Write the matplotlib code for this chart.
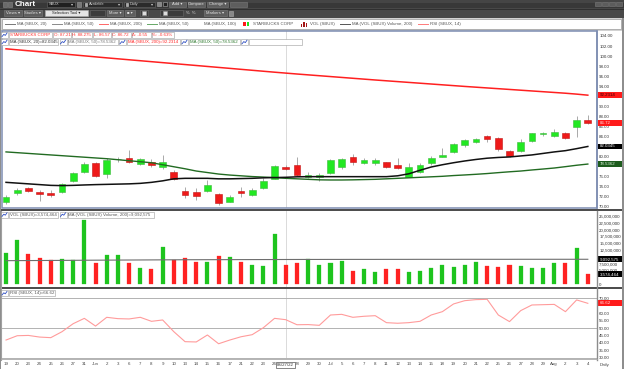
import matplotlib
matplotlib.use("Agg")
import matplotlib.pyplot as plt
from matplotlib.patches import Rectangle
from matplotlib.transforms import blended_transform_factory as blend

plt.rcParams['font.family'] = ['Liberation Sans', 'DejaVu Sans']

W, H, DPI = 624, 369, 100
FS = 3.2

# ---------------- data ----------------
date_labels = ["19", "20", "23", "24", "25", "26", "27", "31",
               "Jun", "2", "3", "6", "7", "8", "9", "10", "13", "14", "15", "16", "17",
               "21", "22", "23", "24", "27", "28", "29", "30",
               "Jul", "5", "6", "7", "8", "11", "12", "13", "14", "15", "18", "19", "20",
               "21", "22", "25", "26", "27", "28", "29",
               "Aug", "2", "3", "4"]

opens = [71.06, 72.84, 73.72, 72.99, 72.79, 72.92, 75.17, 77.03, 78.69, 76.50,
         79.45, 79.80, 78.55, 78.89, 77.90, 77.03, 73.13, 72.93, 73.25, 72.59,
         71.06, 73.13, 72.45, 73.84, 75.64, 78.02, 78.42, 76.03, 75.90, 76.70,
         78.02, 80.00, 78.82, 78.69, 78.89, 78.35, 76.03, 77.03, 78.69, 80.00,
         81.00, 82.33, 82.87, 84.12, 83.66, 81.20, 81.20, 83.13, 84.53, 84.12,
         84.66, 85.85, 87.21]
highs = [72.4, 73.75, 74.0, 73.4, 73.3, 74.75, 76.9, 79.0, 78.9, 79.7,
         80.0, 81.3, 79.8, 79.6, 80.3, 77.3, 74.04, 73.7, 75.4, 72.73,
         72.4, 74.0, 73.7, 75.7, 78.35, 78.35, 80.0, 77.03, 76.8, 79.5,
         79.7, 80.5, 79.7, 79.8, 79.0, 79.7, 78.7, 78.7, 80.1, 81.68,
         82.7, 83.45, 83.75, 84.3, 83.85, 81.3, 83.5, 84.8, 85.0, 85.5,
         85.0, 88.0, 88.275]
lows = [70.6, 72.3, 72.95, 71.26, 71.9, 72.7, 75.0, 76.7, 76.0, 75.7,
        79.0, 78.7, 78.3, 77.9, 77.6, 75.3, 71.73, 71.4, 73.0, 70.4,
        70.9, 72.05, 72.2, 73.5, 75.5, 77.3, 76.2, 75.7, 75.2, 76.5,
        77.5, 78.4, 78.6, 78.4, 77.7, 77.5, 75.9, 76.8, 78.4, 80.0,
        80.8, 81.9, 82.8, 82.9, 81.2, 80.0, 81.0, 82.9, 84.2, 83.86,
        83.5, 83.86, 86.57]
closes = [72.05, 73.44, 73.25, 72.65, 72.45, 74.58, 76.70, 78.49, 76.23, 79.35,
          79.55, 79.00, 79.50, 78.41, 78.89, 75.57, 72.33, 72.26, 74.32, 70.86,
          71.99, 72.85, 73.33, 75.17, 78.15, 77.62, 76.36, 76.43, 76.43, 79.35,
          79.55, 78.89, 79.35, 79.35, 77.90, 77.70, 77.90, 78.28, 79.69, 80.34,
          82.53, 83.33, 83.60, 83.47, 81.47, 80.20, 83.00, 84.66, 84.80, 84.92,
          83.66, 87.27, 86.72]

ma20 = [74.9, 74.75, 74.6, 74.45, 74.3, 74.25, 74.3, 74.38, 74.45, 74.5,
        74.55, 74.6, 74.7, 74.9, 75.2, 75.6, 75.7, 75.7, 75.7, 75.6,
        75.6, 75.65, 75.7, 75.8, 75.85, 75.9, 76.0, 76.03, 76.03, 76.03,
        76.03, 76.03, 76.03, 76.03, 76.03, 76.2, 76.6, 77.3, 77.95, 78.4,
        78.8, 79.15, 79.45, 79.7, 79.85, 79.95, 80.15, 80.35, 80.65, 80.95,
        81.2, 81.6, 82.0345]
ma50 = [80.95, 80.8, 80.65, 80.5, 80.35, 80.2, 80.05, 79.9, 79.75, 79.6,
        79.4, 79.2, 79.0, 78.8, 78.4, 78.0, 77.6, 77.15, 76.85, 76.55,
        76.35, 76.2, 76.05, 75.95, 75.85, 75.7, 75.6, 75.5, 75.4, 75.37,
        75.37, 75.4, 75.45, 75.5, 75.6, 75.7, 75.8, 75.9, 76.0, 76.1,
        76.25, 76.37, 76.5, 76.65, 76.83, 77.0, 77.15, 77.36, 77.55, 77.75,
        78.02, 78.3, 78.5362]
ma200 = [101.45, 101.25, 101.05, 100.85, 100.65, 100.45, 100.25, 100.05, 99.85, 99.65,
         99.46, 99.27, 99.08, 98.89, 98.70, 98.51, 98.32, 98.13, 97.94, 97.75,
         97.56, 97.37, 97.18, 96.99, 96.80, 96.62, 96.44, 96.27, 96.10, 95.93,
         95.76, 95.59, 95.42, 95.25, 95.09, 94.93, 94.77, 94.61, 94.45, 94.29,
         94.13, 93.97, 93.82, 93.67, 93.52, 93.37, 93.22, 93.07, 92.92, 92.77,
         92.62, 92.44, 92.2314]

volume = [11.5e6, 16.2e6, 11.0e6, 9.56e6, 8.7e6, 9.2e6, 8.7e6, 23.5e6, 7.8e6, 10.5e6,
          10.66e6, 7.6e6, 5.76e6, 5.5e6, 13.5e6, 8.8e6, 9.4e6, 8.0e6, 8.0e6, 10.3e6,
          10.0e6, 8.2e6, 7.0e6, 6.7e6, 18.4e6, 7.0e6, 7.6e6, 9.2e6, 7.1e6, 7.8e6,
          8.46e6, 4.9e6, 5.5e6, 4.3e6, 5.5e6, 5.5e6, 4.3e6, 4.8e6, 5.9e6, 7.1e6,
          6.25e6, 7.1e6, 8.0e6, 6.6e6, 6.1e6, 6.9e6, 6.6e6, 5.9e6, 5.9e6, 7.6e6,
          7.6e6, 13.1e6, 3574464]
vol_ma200 = [8.58e6, 8.60e6, 8.62e6, 8.64e6, 8.66e6, 8.68e6, 8.71e6, 8.74e6, 8.76e6, 8.78e6,
             8.80e6, 8.82e6, 8.84e6, 8.86e6, 8.88e6, 8.90e6, 8.92e6, 8.93e6, 8.94e6, 8.95e6,
             8.96e6, 8.97e6, 8.98e6, 8.99e6, 9.00e6, 9.01e6, 9.02e6, 9.03e6, 9.03e6, 9.04e6,
             9.04e6, 9.05e6, 9.05e6, 9.05e6, 9.06e6, 9.06e6, 9.06e6, 9.07e6, 9.07e6, 9.07e6,
             9.07e6, 9.08e6, 9.08e6, 9.08e6, 9.08e6, 9.08e6, 9.09e6, 9.09e6, 9.09e6, 9.09e6,
             9.09e6, 9.09e6, 9092575]

rsi14 = [41.9, 44.8, 45.0, 43.9, 43.5, 47.5, 52.9, 56.5, 51.3, 57.2,
         56.3, 56.1, 57.2, 54.5, 55.4, 47.5, 40.8, 40.6, 45.3, 39.4,
         41.9, 44.1, 45.5, 50.2, 56.5, 55.6, 52.2, 52.3, 51.8, 58.75,
         59.2, 57.2, 57.9, 58.3, 53.6, 53.2, 53.6, 54.5, 58.75, 61.0,
         66.2, 68.4, 69.1, 69.3, 58.75, 54.3, 61.7, 65.5, 65.7, 65.9,
         61.0, 68.9, 66.62]

price_ticks = [70, 72, 74, 76, 78, 80, 82, 84, 86, 88, 90, 92, 94, 96, 98, 100, 102, 104]
vol_ticks = [0, 2.5e6, 5e6, 7.5e6, 10e6, 12.5e6, 15e6, 17.5e6, 20e6, 22.5e6, 25e6]
rsi_ticks = [30, 35, 40, 45, 50, 55, 60, 65, 70]
rsi_levels = [70, 50, 30]
crosshair_idx = 25
crosshair_label = "06/27/22"

# ---------------- figure ----------------
n = len(closes)
idx = list(range(n))
up = [c >= o for o, c in zip(opens, closes)]

fig = plt.figure(figsize=(W / DPI, H / DPI), dpi=DPI)
fig.patch.set_facecolor('white')


def px_axes(x0, y0, x1, y1, z):
    return fig.add_axes([x0 / W, 1 - y1 / H, (x1 - x0) / W, (y1 - y0) / H], zorder=z)


bg = px_axes(0, 0, W, H, 0)
bg.set_xlim(0, W); bg.set_ylim(H, 0); bg.axis('off')
fg = px_axes(0, 0, W, H, 10)
fg.set_xlim(0, W); fg.set_ylim(H, 0); fg.axis('off')

# window chrome
bg.add_patch(Rectangle((0, 0), W, H, fc='white', ec='none'))
bg.add_patch(Rectangle((0, 0), W, 8.4, fc='#383838', ec='none'))
bg.add_patch(Rectangle((0, 0), W, 3.0, fc='#454545', ec='none'))
bg.add_patch(Rectangle((0, 8.4), W, 9.2, fc='#484848', ec='none'))
bg.plot([0, W], [8.5, 8.5], color='#262626', lw=0.5)
bg.add_patch(Rectangle((0, 17.6), W, 13.2, fc='#d2d2d2', ec='none'))
bg.add_patch(Rectangle((2, 19.2), 619, 10.2, fc='white', ec='#9a9a9a', lw=0.5))


def box(x0, x1, y0, y1, label='', fc='#5e5e5e', ec='#7c7c7c', tc='#e2e2e2', size=3.0, ha='center', bold=False):
    bg.add_patch(Rectangle((x0, y0), x1 - x0, y1 - y0, fc=fc, ec=ec, lw=0.4))
    if label:
        xt = (x0 + x1) / 2 if ha == 'center' else x0 + 1.5
        bg.text(xt, (y0 + y1) / 2 + 0.2, label, fontsize=size, color=tc, ha=ha, va='center',
                fontweight='bold' if bold else 'normal')


# row 1
box(3, 7, 2.2, 6.6, fc='#6a6a6a', ec='#888')
box(8, 12, 2.2, 6.6, fc='#6a6a6a', ec='#888')
bg.text(15, 4.6, "Chart", fontsize=5.8, color='white', fontweight='bold', va='center', ha='left')
box(47, 75, 1.5, 7.0, "SBUX", fc='#202020', ec='#6a6a6a', tc='#cccccc', size=2.8, ha='left')
bg.text(72.5, 4.4, "▾", fontsize=3, color='#ccc', ha='center', va='center')
box(77, 81, 2.0, 6.5, fc='#777', ec='#999')
box(83, 122, 1.5, 7.0, fc='#2b2b2b', ec='#6a6a6a')
box(84.5, 87.3, 2.9, 5.7, fc='#aaa', ec='#ccc')
bg.text(89, 4.4, "Available", fontsize=2.8, color='#cccccc', va='center', ha='left')
bg.text(119.5, 4.4, "▾", fontsize=3, color='#ccc', ha='center', va='center')
box(124, 155, 1.5, 7.0, fc='#2b2b2b', ec='#6a6a6a')
box(125.5, 128.3, 2.9, 5.7, fc='#aaa', ec='#ccc')
bg.text(130, 4.4, "Daily", fontsize=2.8, color='#cccccc', va='center', ha='left')
bg.text(152.5, 4.4, "▾", fontsize=3, color='#ccc', ha='center', va='center')
box(157, 161, 2.2, 6.5, fc='#888', ec='#aaa')
box(163, 167, 2.2, 6.5, fc='#222', ec='#aaa')
box(169, 186, 1.5, 7.0, "Add ▾")
box(188, 205, 1.5, 7.0, "Compare")
box(207, 228, 1.5, 7.0, "Change ▾")
box(230, 247, 1.5, 7.0, "")
for xw in (595, 602, 609, 616):
    box(xw, xw + 5.5, 2.2, 6.4, fc='#5c5c5c', ec='#7a7a7a')

# row 2
box(4, 22, 9.8, 16.3, "Views ▾")
box(24, 42, 9.8, 16.3, "Studies ▾")
box(45, 88, 9.8, 16.3, "Selection Tool ▾", fc='#e4e4e4', ec='#aaa', tc='#222')
box(90, 105, 9.8, 16.3, fc='#3c3c3c', ec='#6a6a6a')
box(107, 123, 9.8, 16.3, "More ▾")
box(125, 135, 9.8, 16.3, "■ ▾")
box(140, 148, 9.8, 16.3, fc='#3c3c3c', ec='#6a6a6a')
box(142, 146, 11.4, 14.7, fc='#ddd', ec='#999')
box(160, 183, 9.8, 16.3, fc='#3c3c3c', ec='#6a6a6a')
box(163, 167, 11.4, 14.7, fc='#ddd', ec='#999')
bg.text(186, 13.2, "%  %", fontsize=3, color='#ddd', va='center', ha='left')
box(204, 227, 9.8, 16.3, "Markers ▾")
box(229, 233, 10.5, 15.5, fc='#888', ec='#aaa')

# series legend strip
LEG_Y = 24.4
leg_items = [
    (5, 15, '#777777', "MA (SBUX, 20)"),
    (52, 62, '#8a8a8a', "MA (SBUX, 50)"),
    (99, 108, '#ff6666', "MA (SBUX, 200)"),
    (147, 157, '#66a866', "MA (SBUX, 50)"),
    (194, 202, 'white', "MA (SBUX, 100)"),
    (340, 350, '#555555', "MA (VOL (SBUX) Volume, 200)"),
    (418, 428, '#ff7a7a', "RSI (SBUX, 14)"),
]
for x0, x1, col, lab in leg_items:
    bg.plot([x0, x1], [LEG_Y, LEG_Y], color=col, lw=0.7)
    bg.text(x1 + 2, LEG_Y, lab, fontsize=FS, color='#555', va='center', ha='left')
bg.add_patch(Rectangle((243.3, 21.8), 2.2, 4.6, fc='#ff1a1a', ec='none'))
bg.add_patch(Rectangle((247.0, 21.8), 2.2, 4.6, fc='#22dd22', ec='none'))
bg.text(253, LEG_Y, "STARBUCKS CORP", fontsize=FS, color='#555', va='center', ha='left')
for xb, hb in ((300.5, 2.5), (303, 4.2), (305.5, 3.2)):
    bg.add_patch(Rectangle((xb, 26.6 - hb), 1.8, hb, fc='#a31515', ec='none'))
bg.text(310, LEG_Y, "VOL (SBUX)", fontsize=FS, color='#555', va='center', ha='left')

# ---------------- data axes ----------------
XL = (-0.36, 52.82)
ax_p = px_axes(2, 31, 597, 208, 2)
ax_v = px_axes(2, 211, 597, 287, 2)
ax_r = px_axes(2, 289, 597, 359, 2)
for ax in (ax_p, ax_v, ax_r):
    ax.set_xlim(*XL)
    ax.set_facecolor('white')
    for s in ax.spines.values():
        s.set_visible(False)
    ax.yaxis.tick_right()
    ax.tick_params(axis='y', length=0, pad=1.6, labelsize=FS, labelcolor='#333333')
    ax.axvline(crosshair_idx, color='#d4d4d4', lw=0.6, zorder=0.5)

ax_p.set_ylim(69.80, 104.99)
ax_v.set_ylim(-1.10e6, 26.84e6)
ax_r.set_ylim(29.13, 76.26)


def tick_texts(ax, ticks, fmt, box_vals, min_px=3.0):
    """Tick labels; the ones sitting under a value box are left blank (hidden, as on screen)."""
    out = []
    for t in ticks:
        ty = ax.transData.transform((0, t))[1]
        hid = any(abs(ty - ax.transData.transform((0, v))[1]) < min_px for v in box_vals)
        out.append('' if hid else fmt(t))
    return out


# candles
body_bot = [min(o, c) for o, c in zip(opens, closes)]
body_h = [max(abs(c - o), 0.09) for o, c in zip(opens, closes)]
cfill = ['#22e822' if u else '#ee1a1a' for u in up]
cedge = ['#3fb93f' if u else '#c21515' for u in up]
ax_p.vlines(idx, lows, highs, color='#a9a9a9', lw=0.7, zorder=2)
ax_p.bar(idx, body_h, bottom=body_bot, width=0.6, color=cfill, edgecolor=cedge, linewidth=0.4, zorder=3)
ax_p.plot(idx, ma200, color='#ff2020', lw=1.1, zorder=4)
ax_p.plot(idx, ma50, color='#226b22', lw=1.0, zorder=4)
ax_p.plot(idx, ma20, color='#111111', lw=1.1, zorder=4)
ax_p.set_xticks([])
ax_p.set_yticks(price_ticks)
ax_p.set_yticklabels(tick_texts(ax_p, price_ticks, lambda t: f"{t:.2f}",
                                [ma200[-1], closes[-1], ma20[-1], ma50[-1]]))

# volume
vcol = ['#1ec41e' if u else '#ff2222' for u in up]
ax_v.bar(idx, volume, width=0.36, color=vcol, edgecolor=vcol, linewidth=0.2, zorder=2)
ax_v.plot(idx, vol_ma200, color='#6e6e6e', lw=0.8, zorder=3)
ax_v.set_xticks([])
ax_v.set_yticks(vol_ticks)
ax_v.set_yticklabels(tick_texts(ax_v, vol_ticks, lambda t: f"{t:,.0f}",
                                [vol_ma200[-1], volume[-1]]))

# RSI
for lv in rsi_levels:
    ax_r.axhline(lv, color='#b2b2b2', lw=0.7, zorder=1)
ax_r.plot(idx, rsi14, color='#ff9b9b', lw=0.8, zorder=3)
ax_r.set_yticks(rsi_ticks)
ax_r.set_yticklabels(tick_texts(ax_r, rsi_ticks, lambda t: f"{t:.2f}", [rsi14[-1]]))
ax_r.set_xticks(idx)
ax_r.set_xticklabels(['' if i == crosshair_idx else d for i, d in enumerate(date_labels)])
ax_r.tick_params(axis='x', length=0, pad=2.4, labelsize=FS, labelcolor='#444444')
ax_r.text(crosshair_idx, -0.09, crosshair_label, transform=blend(ax_r.transData, ax_r.transAxes),
          ha='center', va='center', fontsize=FS, color='#333',
          bbox=dict(fc='white', ec='#555555', lw=0.5, pad=0.7), zorder=10, clip_on=False)


def value_box(ax, val, text, fc, tc, hdata):
    tr = blend(ax.transAxes, ax.transData)
    ax.add_patch(Rectangle((1.001, val - hdata / 2), 0.0445, hdata, transform=tr,
                           fc=fc, ec='none', clip_on=False, zorder=5))
    ax.text(1.0045, val, text, transform=tr, fontsize=FS, color=tc, va='center', ha='left',
            clip_on=False, zorder=6)


value_box(ax_p, ma200[-1], f"{ma200[-1]:.4f}", '#ff1a1a', '#3a0000', 1.12)
value_box(ax_p, closes[-1], f"{closes[-1]:.2f}", '#ff1a1a', '#ffe0e0', 1.12)
value_box(ax_p, ma20[-1], f"{ma20[-1]:.4f}", '#000000', '#ffffff', 1.12)
value_box(ax_p, ma50[-1], f"{ma50[-1]:.4f}", '#1d5c1d', '#d8f0d8', 1.12)
value_box(ax_v, vol_ma200[-1], f"{vol_ma200[-1]:,.0f}", '#000000', '#ffffff', 2.05e6)
value_box(ax_v, volume[-1], f"{volume[-1]:,.0f}", '#000000', '#ffffff', 2.05e6)
value_box(ax_r, rsi14[-1], f"{rsi14[-1]:.2f}", '#ff1a1a', '#ffe0e0', 3.8)

# ---------------- foreground frames & panel tags ----------------
fg.add_patch(Rectangle((1.6, 30.6), 595.4, 177.6, fill=False, ec='#7d8db2', lw=1.1))
fg.plot([597, 597], [30.6, 208], color='#7d8db2', lw=1.1)
fg.plot([597, 597], [211, 359.5], color='#8c8c8c', lw=1.0)
fg.add_patch(Rectangle((0, 208.6), W, 2.4, fc='#4e4e4e', ec='none'))
fg.add_patch(Rectangle((0, 286.9), W, 2.2, fc='#4e4e4e', ec='none'))
fg.plot([1.4, 1.4], [211, 359.5], color='#a0a0a0', lw=0.8)
fg.plot([1.4, 597], [359.4, 359.4], color='#a8a8a8', lw=0.6)
fg.add_patch(Rectangle((621.6, 17.6), 2.4, 351.4, fc='#8e8e8e', ec='none'))
fg.add_patch(Rectangle((0, 17.6), 0.9, 351.4, fc='#8e8e8e', ec='none'))
fg.text(600, 365.2, "Daily", fontsize=FS, color='#444', va='center', ha='left')


def tag(x0, x1, yc, label='', color='#333'):
    fg.add_patch(Rectangle((x0, yc - 2.9), x1 - x0, 5.8, fc='white', ec='#9c9c9c', lw=0.4))
    if label:
        fg.text(x0 + 1.0, yc + 0.1, label, fontsize=FS, color=color, va='center', ha='left')


def icon(x0, yc):
    tag(x0, x0 + 7, yc)
    fg.plot([x0 + 1, x0 + 2.8, x0 + 4.3, x0 + 6], [yc + 1.8, yc - 0.4, yc + 0.6, yc - 1.8],
            color='#2f4fc4', lw=0.6)


y1 = 34.8
icon(1, y1)
row1 = [(9, 52, "STARBUCKS CORP"), (53, 70.5, f"O: {opens[-1]:.2f}"),
        (71.5, 92, f"H: {highs[-1]:.3f}"), (93, 110.5, f"L: {lows[-1]:.2f}"),
        (111.5, 130.5, f"C: {closes[-1]:.2f}"), (131.5, 150.5, "Δ: -0.55"),
        (151.5, 174, "%: -0.63%")]
for x0, x1, lab in row1:
    tag(x0, x1, y1, lab, '#ff3030')

y2 = 42.0
icon(1, y2)
tag(9, 58, y2, f"MA (SBUX, 20)={ma20[-1]:.4f}", '#333333')
icon(59.5, y2)
tag(67.5, 118, y2, f"MA (SBUX, 50)={ma50[-1]:.4f}", '#777777')
icon(119, y2)
tag(127, 180, y2, f"MA (SBUX, 200)={ma200[-1]:.4f}", '#ff2a2a')
icon(181, y2)
tag(189, 240, y2, f"MA (SBUX, 50)={ma50[-1]:.4f}", '#2e7a2e')
icon(241, y2)
tag(249, 302, y2)

y3 = 214.6
icon(1, y3)
tag(9, 58, y3, f"VOL (SBUX)={volume[-1]:,.0f}", '#555555')
icon(59.5, y3)
tag(67.5, 153.5, y3, f"MA (VOL (SBUX) Volume, 200)={vol_ma200[-1]:,.0f}", '#555555')

y4 = 293.2
icon(1, y4)
tag(9, 55, y4, f"RSI (SBUX, 14)={rsi14[-1]:.2f}", '#555555')

fig.savefig("out.png", dpi=DPI, facecolor='white')
